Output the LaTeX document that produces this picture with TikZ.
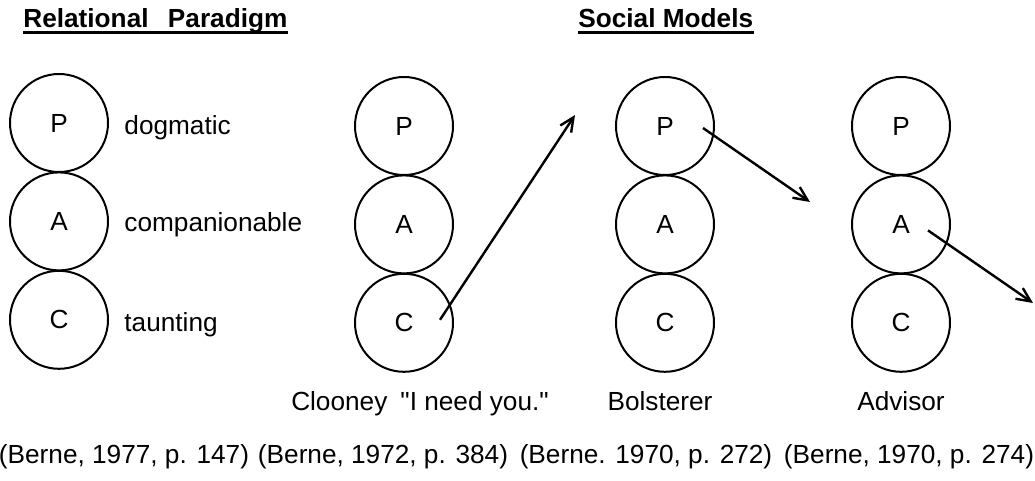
\documentclass[tikz,border=0pt]{standalone}
\usepackage{fontspec}
\setmainfont{Liberation Sans}[Ligatures=TeXOff]
\usetikzlibrary{arrows.meta, positioning, calc}

\begin{document}
\begin{tikzpicture}[x=0.5pt, y=-0.5pt, node distance=49.2pt,
        font=\fontsize{13.1pt}{15pt}\selectfont,
        ego/.style={circle, draw, line width=1pt, minimum size=49pt, inner sep=0pt},
        heading/.style={font=\fontsize{13.1pt}{15pt}\selectfont\bfseries, inner sep=0pt, anchor=base west},
        cite/.style={anchor=base, inner sep=0pt},
        pointer/.style={-{Straight Barb[length=7pt, width=6.5pt]}, line width=1.2pt}]
        \useasboundingbox (0,0) rectangle (1035,481);

        % headings
        \node[heading] (rp) at (23,28) {Relational\hspace{0.74em}Paradigm};
        \node[heading] (sm) at (578,28) {Social Models};
        \draw[line width=1.5pt] ([yshift=-2.5pt]rp.base west) -- ([yshift=-2.5pt]rp.base east);
        \draw[line width=1.5pt] ([yshift=-2.5pt]sm.base west) -- ([yshift=-2.5pt]sm.base east);

        % relational paradigm
        \node[ego] (p1) at (59,123) {P};
        \node[ego] (a1) [below of=p1] {A};
        \node[ego] (c1) [below of=a1] {C};
        \node (dog) [right=4.2pt of p1, yshift=-2.5pt] {dogmatic};
        \node (comp) [right=4.2pt of a1, yshift=-1.5pt] {companionable};
        \node (taun) [right=4.2pt of c1, yshift=-2.5pt] {taunting};

        % social models
        \node[ego] (p2) at (404,126) {P};
        \node[ego] (a2) [below of=p2] {A};
        \node[ego] (c2) [below of=a2] {C};
        \node[ego] (p3) at (665,126) {P};
        \node[ego] (a3) [below of=p3] {A};
        \node[ego] (c3) [below of=a3] {C};
        \node[ego] (p4) at (901,126) {P};
        \node[ego] (a4) [below of=p4] {A};
        \node[ego] (c4) [below of=a4] {C};

        \node (clooney) [below=6pt of c2, xshift=8pt] {Clooney\hspace{0.5em}"I need you."};
        \node (bols) [below=6pt of c3, xshift=-2.5pt] {Bolsterer};
        \node (adv) [below=6pt of c4] {Advisor};

        \coordinate (s1) at ($(c2)+(36,-3)$);
        \coordinate (t1) at (575,115);
        \coordinate (s2) at ($(p3)+(38,2)$);
        \coordinate (t2) at (810,202);
        \coordinate (s3) at ($(a4)+(27,6)$);
        \coordinate (t3) at (1033,303);

        \path[pointer] (s1) edge (t1)
                       (s2) edge (t2)
                       (s3) edge (t3);

        % sources
        \node[cite] (cite1) at (124,463) {(Berne, 1977, p. 147)};
        \node[cite] (cite2) at (383,463) {(Berne, 1972, p. 384)};
        \node[cite] (cite3) at (646,463) {(Berne. 1970, p. 272)};
        \node[cite] (cite4) at (909,463) {(Berne, 1970, p. 274)};
\end{tikzpicture}
\end{document}
